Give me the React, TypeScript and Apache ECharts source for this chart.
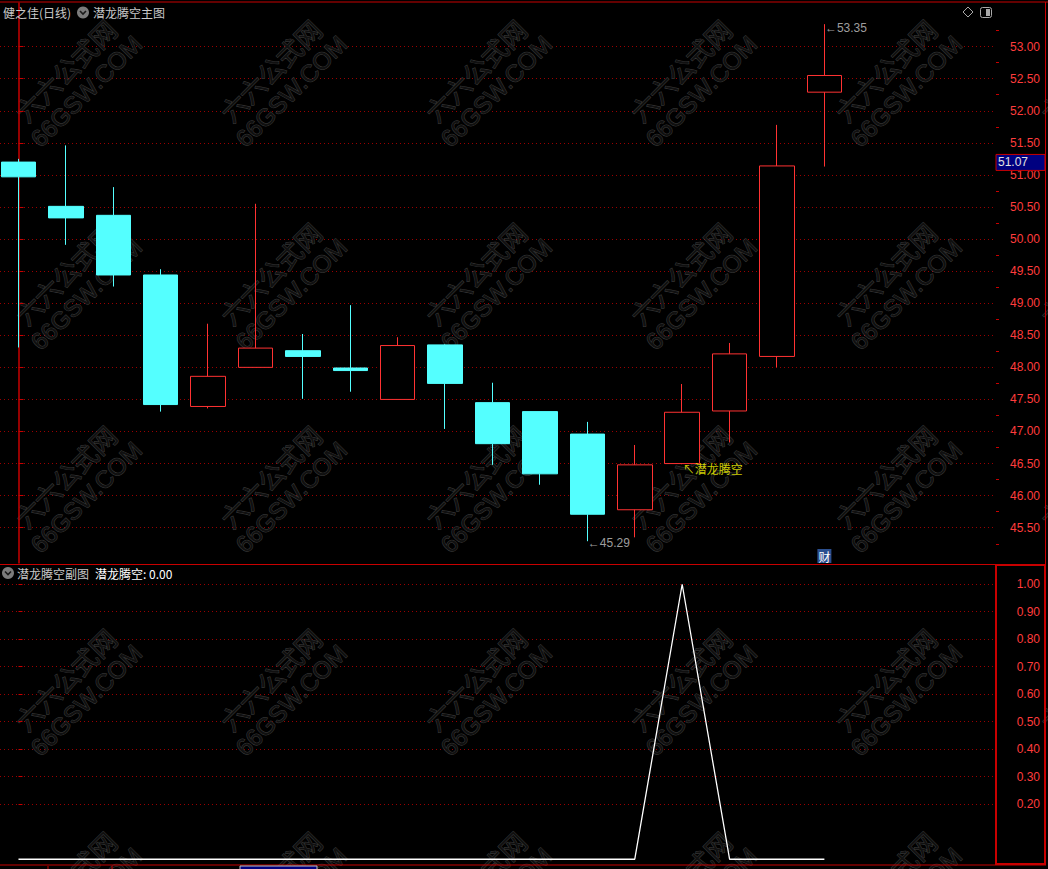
import React, { useEffect, useRef } from "react";
import * as echarts from "echarts";

// ---- data (18 daily candles) ----
const opens = [51.2, 50.51, 50.37, 49.44, 47.39, 48.0, 48.26, 47.99, 47.5, 48.35, 47.45, 47.31, 46.96, 45.78, 46.5, 47.32, 48.17, 52.29];
const closes = [50.97, 50.33, 49.44, 47.42, 47.86, 48.3, 48.17, 47.95, 48.34, 47.75, 46.81, 46.34, 45.71, 46.48, 47.3, 48.21, 51.14, 52.55];
const lows = [48.31, 49.91, 49.26, 47.31, 47.36, 48.0, 47.51, 47.62, 47.5, 47.04, 46.48, 46.17, 45.29, 45.35, 46.49, 46.83, 48.0, 51.13];
const highs = [51.25, 51.46, 50.81, 49.53, 48.68, 50.55, 48.52, 48.97, 48.47, 48.36, 47.76, 47.31, 47.15, 46.79, 47.74, 48.38, 51.78, 53.35];
const signal = [0, 0, 0, 0, 0, 0, 0, 0, 0, 0, 0, 0, 0, 0, 1, 0, 0, 0];

const priceTicks = [45.5, 46, 46.5, 47, 47.5, 48, 48.5, 49, 49.5, 50, 50.5, 51, 51.5, 52, 52.5, 53];
const priceMinorTicks = [45.25, 45.75, 46.25, 46.75, 47.25, 47.75, 48.25, 48.75, 49.25, 49.75, 50.25, 50.75, 51.25, 51.75, 52.25, 52.75, 53.25];
const signalTicks = [0.2, 0.3, 0.4, 0.5, 0.6, 0.7, 0.8, 0.9, 1.0];

const highIndex = 17;
const highValue = 53.35;
const lowIndex = 12;
const lowValue = 45.29;
const signalIndex = 14;
const signalLow = 46.49;
const lastPrice = 51.07;
const finIndex = 17;

const stockTitle = "健之佳(日线)";
const mainTitle = "潜龙腾空主图";
const subTitle = "潜龙腾空副图";
const signalName = "潜龙腾空";

const RED = "#c80000";
const LABEL_RED = "#ff3c3c";
const CYAN = "#54ffff";
const CJK = '"Noto Sans CJK SC", sans-serif';
const LAT = '"Liberation Sans", Arial, sans-serif';

function buildOption() {
  const candleData = opens.map((o, i) => [i, o, closes[i], lows[i], highs[i]]);
  const lineData = signal.map((v, i) => [i, v]);
  const xAxisBase = { type: "value", min: -0.39, max: 20.62, show: false };
  const gridLine = { show: true, lineStyle: { color: "#9a0000", type: [1, 3], width: 1 } };
  return {
    animation: false,
    backgroundColor: "#000000",
    grid: [
      { left: 0, right: 52, top: 3, height: 560 },
      { left: 0, right: 52, top: 565, height: 300 },
    ],
    xAxis: [
      { ...xAxisBase, gridIndex: 0 },
      { ...xAxisBase, gridIndex: 1 },
    ],
    yAxis: [
      {
        type: "value", gridIndex: 0, position: "right", min: 44.95, max: 53.68, scale: true,
        axisLine: { show: true, lineStyle: { color: RED, width: 1.5 } },
        axisTick: { show: true, customValues: priceTicks, length: 5, lineStyle: { color: RED } },
        axisLabel: {
          customValues: priceTicks, color: LABEL_RED, fontFamily: LAT, fontSize: 12,
          align: "right", margin: 44, formatter: (v: number) => v.toFixed(2),
        },
        splitLine: gridLine,
      },
      {
        type: "value", gridIndex: 0, position: "right", min: 44.95, max: 53.68, scale: true,
        axisLine: { show: false },
        axisTick: { show: true, customValues: priceMinorTicks, length: 3, lineStyle: { color: RED } },
        axisLabel: { show: false },
        splitLine: { show: false },
      },
      {
        type: "value", gridIndex: 1, position: "right", min: -0.021, max: 1.07,
        axisLine: { show: false },
        axisTick: { show: true, customValues: signalTicks, length: 4, lineStyle: { color: RED } },
        axisLabel: {
          customValues: signalTicks, color: LABEL_RED, fontFamily: LAT, fontSize: 12,
          align: "right", margin: 44, formatter: (v: number) => v.toFixed(2),
        },
        splitLine: gridLine,
      },
    ],
    series: [
      {
        type: "candlestick", xAxisIndex: 0, yAxisIndex: 0, data: candleData,
        encode: { x: 0, y: [1, 2, 3, 4] },
        barWidth: 35, silent: true,
        itemStyle: { color: "#000000", color0: CYAN, borderColor: "#ff3232", borderColor0: CYAN, borderWidth: 1 },
      },
      {
        type: "scatter", xAxisIndex: 0, yAxisIndex: 0, symbolSize: 1, silent: true,
        itemStyle: { color: "rgba(0,0,0,0)" },
        data: [
          { value: [highIndex, highValue], label: { show: true, position: "right", distance: 0, offset: [0, 4], formatter: "←" + highValue.toFixed(2), color: "#c8c8c8", fontFamily: LAT, fontSize: 12 } },
          { value: [lowIndex, lowValue], label: { show: true, position: "right", distance: 0, offset: [0, 2], formatter: "←" + lowValue.toFixed(2), color: "#c8c8c8", fontFamily: LAT, fontSize: 12 } },
          { value: [signalIndex, signalLow], label: { show: true, position: "right", distance: 0, offset: [0, 4], formatter: "↖" + signalName, color: "#ffff00", fontFamily: CJK, fontSize: 12 } },
        ],
      },
      {
        type: "line", xAxisIndex: 1, yAxisIndex: 2, data: lineData, symbol: "none", silent: true,
        lineStyle: { color: "#ffffff", width: 1.3 },
      },
    ],
  };
}

function watermarks() {
  const out: any[] = [];
  for (let c = 0; c < 6; c++) {
    for (let r = 0; r < 5; r++) {
      out.push({
        type: "group", x: 65 + 205 * c, y: 70 + 203 * r, rotation: Math.PI / 4, silent: true, z: 0,
        children: [
          { type: "text", x: 0, y: 0, style: { text: "六六公式网", font: `26px ${CJK}`, fill: "#101010", stroke: "#3a3a3a", lineWidth: 1, align: "center", verticalAlign: "middle" } },
          { type: "text", x: 0, y: 30, style: { text: "66GSW.COM", font: `24px ${LAT}`, fill: "#101010", stroke: "#3a3a3a", lineWidth: 1, align: "center", verticalAlign: "middle" } },
        ],
      });
    }
  }
  return out;
}

function chevron(cx: number, cy: number) {
  return [
    { type: "circle", shape: { cx, cy, r: 6 }, style: { fill: "#7c7c7c" }, z: 10 },
    { type: "polyline", shape: { points: [[cx - 3, cy - 1.5], [cx, cy + 1.5], [cx + 3, cy - 1.5]] }, style: { stroke: "#1a1a1a", lineWidth: 1.6, fill: "none" }, z: 11 },
  ];
}

function line(x1: number, y1: number, x2: number, y2: number, w = 1) {
  return { type: "line", shape: { x1, y1, x2, y2 }, style: { stroke: RED, lineWidth: w }, z: 20, silent: true };
}

export default function App() {
  const ref = useRef<HTMLDivElement>(null);
  useEffect(() => {
    const chart = echarts.init(ref.current!, undefined, { renderer: "svg" });
    chart.setOption(buildOption() as any);
    const yLast = chart.convertToPixel({ yAxisIndex: 0 } as any, lastPrice) as number;
    const xFin = chart.convertToPixel({ xAxisIndex: 0 } as any, finIndex) as number;
    const lastVal = signal[signal.length - 1].toFixed(2);
    const g: any[] = [
      ...watermarks(),
      // frame
      line(0, 2, 1048, 2),
      line(0, 564.5, 1046, 564.5),
      line(0, 865, 1046, 865),
      line(1045.5, 2, 1045.5, 865),
      { type: "rect", shape: { x: 996, y: 565, width: 49, height: 299 }, style: { fill: "none", stroke: RED, lineWidth: 2 }, z: 20, silent: true },
      line(48, 866, 48, 869),
      line(112, 866, 112, 869),
      { type: "rect", shape: { x: 240, y: 866, width: 77, height: 4 }, style: { fill: "#000080", stroke: "#c0c0c0", lineWidth: 1 }, z: 20 },
      // headers
      { type: "text", x: 3, y: 12, style: { text: stockTitle, font: `12px ${CJK}`, fill: "#c8c8c8", verticalAlign: "middle" }, z: 10 },
      ...chevron(83, 12.5),
      { type: "text", x: 93, y: 12, style: { text: mainTitle, font: `12px ${CJK}`, fill: "#c8c8c8", verticalAlign: "middle" }, z: 10 },
      { type: "polygon", shape: { points: [[968, 7], [973, 12], [968, 17], [963, 12]] }, style: { fill: "none", stroke: "#a8a8a8", lineWidth: 1 }, z: 10 },
      { type: "rect", shape: { x: 980.5, y: 7.5, width: 11, height: 10, r: 2 }, style: { fill: "none", stroke: "#a8a8a8", lineWidth: 1 }, z: 10 },
      { type: "rect", shape: { x: 986, y: 9, width: 4, height: 7 }, style: { fill: "#a8a8a8" }, z: 10 },
      ...chevron(8, 573),
      { type: "text", x: 17, y: 573, style: { text: subTitle, font: `12px ${CJK}`, fill: "#c8c8c8", verticalAlign: "middle" }, z: 10 },
      { type: "text", x: 95, y: 573, style: { text: `${signalName}: ${lastVal}`, font: `12px ${CJK}`, fill: "#ffffff", verticalAlign: "middle" }, z: 10 },
      // last price tag on the axis
      { type: "rect", shape: { x: 996, y: yLast - 16, width: 49, height: 16 }, style: { fill: "#000080", stroke: RED, lineWidth: 1 }, z: 30 },
      { type: "text", x: 998, y: yLast - 8, style: { text: lastPrice.toFixed(2), font: `12px ${LAT}`, fill: "#e0e0e0", verticalAlign: "middle" }, z: 31 },
      // financial marker
      { type: "rect", shape: { x: xFin - 7, y: 549, width: 14, height: 14 }, style: { fill: "#2b4f8f" }, z: 30 },
      { type: "text", x: xFin, y: 556, style: { text: "财", font: `12px ${CJK}`, fill: "#ffffff", align: "center", verticalAlign: "middle" }, z: 31 },
    ];
    chart.setOption({ graphic: g });
    return () => chart.dispose();
  }, []);
  return <div ref={ref} style={{ position: "absolute", left: 0, top: 0, width: 1048, height: 869 }} />;
}
